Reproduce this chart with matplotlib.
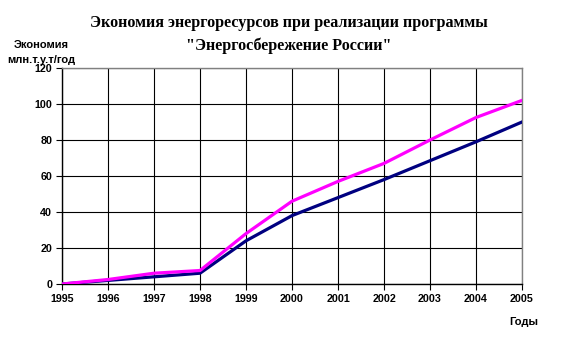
import matplotlib.pyplot as plt

# data
years = [1995, 1996, 1997, 1998, 1999, 2000, 2001, 2002, 2003, 2004, 2005]
plan = [0, 2.5, 6, 7.5, 28, 46, 57, 67, 80, 92.5, 102]
fact = [0, 2, 4, 6, 24, 38, 48, 58, 68.5, 79, 90]

fig = plt.figure(figsize=(5.78, 3.54), dpi=100)
ax = fig.add_axes([0.1073, 0.1977, 0.7958, 0.6102])

ax.plot(years, fact, color='#000080', linewidth=2.3, zorder=3)
ax.plot(years, plan, color='#FF00FF', linewidth=2.3, zorder=4)

ax.set_xlim(1995, 2005)
ax.set_ylim(0, 120)
ax.set_xticks(years)
ax.set_yticks(range(0, 121, 20))
ax.grid(True, color='black', linewidth=0.8)
ax.set_axisbelow(True)

for s in ['left', 'bottom']:
    ax.spines[s].set_color('black')
    ax.spines[s].set_linewidth(1.0)
for s in ['top', 'right']:
    ax.spines[s].set_color('#808080')
    ax.spines[s].set_linewidth(1.0)

ax.tick_params(direction='out', length=4, width=0.8, labelsize=7.7, pad=3)
for lbl in ax.get_xticklabels() + ax.get_yticklabels():
    lbl.set_fontweight('bold')
    lbl.set_fontfamily('Liberation Sans')

fig.text(0.5, 0.935, 'Экономия энергоресурсов при реализации программы',
         ha='center', va='center', fontsize=11.6, fontweight='bold',
         family='Liberation Serif')
fig.text(0.5, 0.872, '"Энергосбережение России"',
         ha='center', va='center', fontsize=11.6, fontweight='bold',
         family='Liberation Serif')

fig.text(0.071, 0.873, 'Экономия', ha='center', va='center',
         fontsize=8, fontweight='bold', family='Liberation Sans')
fig.text(0.071, 0.830, 'млн.т.у.т/год', ha='center', va='center',
         fontsize=8, fontweight='bold', family='Liberation Sans')
fig.text(0.907, 0.090, 'Годы', ha='center', va='center',
         fontsize=8, fontweight='bold', family='Liberation Sans')

fig.savefig('out.png', dpi=100)
